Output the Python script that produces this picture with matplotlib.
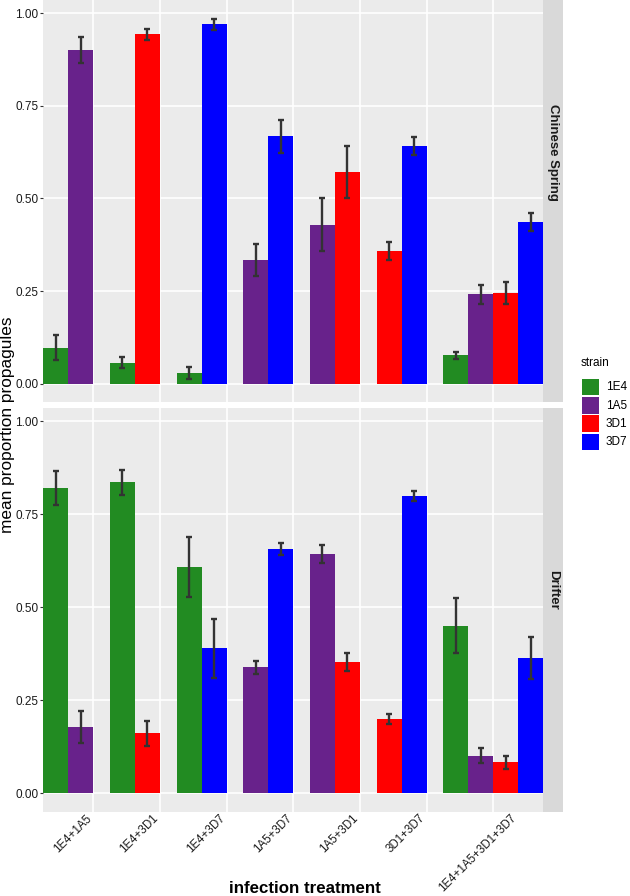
import matplotlib
matplotlib.use('Agg')
import matplotlib.pyplot as plt
import numpy as np
from matplotlib.patches import Rectangle

plt.rcParams['font.family'] = ['Liberation Sans', 'DejaVu Sans']

nan = np.nan

treatments = ['1E4+1A5', '1E4+3D1', '1E4+3D7', '1A5+3D7', '1A5+3D1', '3D1+3D7', '1E4+1A5+3D1+3D7']
strains = ['1E4', '1A5', '3D1', '3D7']
colores = ['#228B22', '#68228B', '#FF0000', '#0000FF']
paneles = ['Chinese Spring', 'Drifter']

# Chinese Spring: media y error por cepa
cs_1E4 = [0.097, 0.057, 0.028, nan, nan, nan, 0.076]
cs_1A5 = [0.901, nan, nan, 0.333, 0.429, nan, 0.241]
cs_3D1 = [nan, 0.943, nan, nan, 0.571, 0.358, 0.245]
cs_3D7 = [nan, nan, 0.971, 0.668, nan, 0.642, 0.437]
cs_1E4_se = [0.034, 0.016, 0.016, nan, nan, nan, 0.010]
cs_1A5_se = [0.034, nan, nan, 0.043, 0.071, nan, 0.025]
cs_3D1_se = [nan, 0.016, nan, nan, 0.071, 0.024, 0.030]
cs_3D7_se = [nan, nan, 0.015, 0.044, nan, 0.025, 0.025]

# Drifter
dr_1E4 = [0.821, 0.836, 0.608, nan, nan, nan, 0.450]
dr_1A5 = [0.178, nan, nan, 0.339, 0.643, nan, 0.101]
dr_3D1 = [nan, 0.161, nan, nan, 0.354, 0.200, 0.083]
dr_3D7 = [nan, nan, 0.390, 0.657, nan, 0.800, 0.363]
dr_1E4_se = [0.046, 0.034, 0.080, nan, nan, nan, 0.074]
dr_1A5_se = [0.044, nan, nan, 0.017, 0.025, nan, 0.020]
dr_3D1_se = [nan, 0.034, nan, nan, 0.024, 0.014, 0.017]
dr_3D7_se = [nan, nan, 0.079, 0.017, nan, 0.013, 0.056]

medias = [[cs_1E4, cs_1A5, cs_3D1, cs_3D7], [dr_1E4, dr_1A5, dr_3D1, dr_3D7]]
errores = [[cs_1E4_se, cs_1A5_se, cs_3D1_se, cs_3D7_se], [dr_1E4_se, dr_1A5_se, dr_3D1_se, dr_3D7_se]]

W, H = 630, 896
fig = plt.figure(figsize=(W / 100, H / 100), dpi=100)

def px(x0, y0, x1, y1):
    return [x0 / W, 1 - y1 / H, (x1 - x0) / W, (y1 - y0) / H]

slot = 0.375
ejes = [(0, 402), (408, 811.7)]

for p, (y0, y1) in enumerate(ejes):
    ax = fig.add_axes(px(43.3, y0, 543.3, y1))
    ax.set_facecolor('#EBEBEB')
    for s in ax.spines.values():
        s.set_visible(False)

    centros = []
    for i in range(len(treatments)):
        presentes = [k for k in range(len(strains)) if not np.isnan(medias[p][k][i])]
        for j, k in enumerate(presentes):
            x = i - 0.75 + slot * (j + 0.5)
            ax.bar(x, medias[p][k][i], width=slot, color=colores[k], linewidth=0, zorder=2)
            ax.errorbar(x, medias[p][k][i], yerr=errores[p][k][i], color='#333333',
                        elinewidth=1.7, capsize=2.3, capthick=1.7, zorder=3)
        centros.append(i - 0.75 + slot * len(presentes) / 2)

    ax.set_xlim(-0.75, 6.75)
    ax.set_ylim(-0.0496, 1.036)
    ax.set_yticks([0, 0.25, 0.5, 0.75, 1.0])
    ax.set_yticklabels(['0.00', '0.25', '0.50', '0.75', '1.00'])
    ax.set_xticks(range(len(treatments)))
    ax.grid(True, which='major', color='white', linewidth=1.2, zorder=0)
    ax.set_axisbelow(True)
    ax.tick_params(axis='y', length=2.5, width=0.8, color='#333333', pad=1,
                   labelsize=8.5, labelcolor='#1a1a1a')
    ax.tick_params(axis='x', which='major', length=0, labelbottom=False)
    if p == 1:
        ax.set_xticks([c + 0.26 for c in centros], minor=True)
        ax.set_xticklabels(treatments, minor=True, rotation=45, ha='right', va='top',
                           rotation_mode='anchor', fontsize=8.3, color='#1a1a1a')
        ax.tick_params(axis='x', which='minor', length=0, pad=0.5)
    else:
        ax.tick_params(axis='x', which='minor', length=0, labelbottom=False)

    # franja del panel
    sax = fig.add_axes(px(543.3, y0, 563.3, y1))
    sax.set_facecolor('#D9D9D9')
    sax.set_xticks([])
    sax.set_yticks([])
    for s in sax.spines.values():
        s.set_visible(False)
    sax.text(0.5, 0.5, paneles[p], rotation=270, rotation_mode='anchor',
             ha='right', va='center', fontsize=9.5, fontweight='bold',
             color='#1a1a1a', transform=sax.transAxes)

fig.text(8 / W, 1 - 425 / H, 'mean proportion propagules', rotation=90,
         ha='center', va='center', fontsize=12.4)
fig.text(305 / W, 1 - 888 / H, 'infection treatment', ha='center', va='center',
         fontsize=12.2, fontweight='bold')

# leyenda
fig.text(581 / W, 1 - 363 / H, 'strain', ha='left', va='center', fontsize=8.5)
for k, s in enumerate(strains):
    top = 379 + 18.2 * k
    fig.add_artist(Rectangle((581.7 / W, 1 - (top + 16.5) / H), 17.3 / W, 16.5 / H,
                             transform=fig.transFigure, facecolor=colores[k],
                             edgecolor='none'))
    fig.text(606 / W, 1 - (top + 8.3) / H, s, ha='left', va='center', fontsize=8.5)

fig.savefig('out.png', dpi=100)
